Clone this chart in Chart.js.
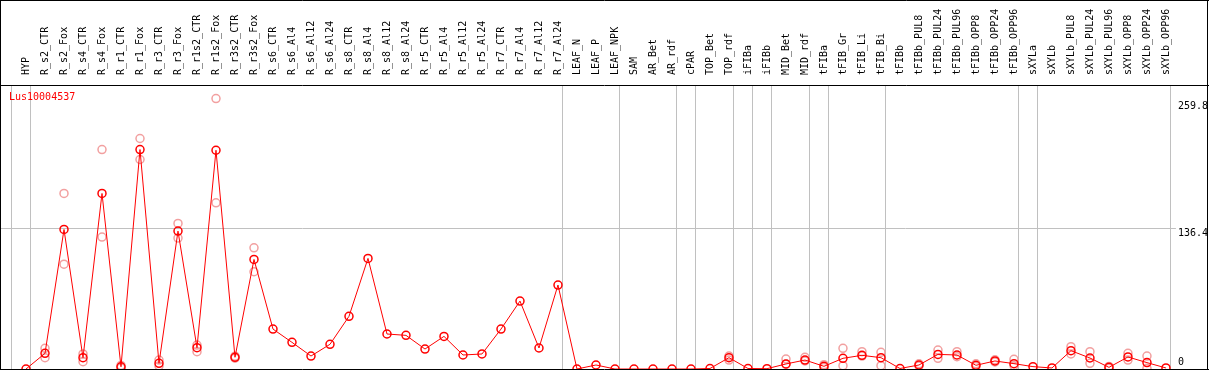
<!DOCTYPE html>
<html>
<head>
<meta charset="utf-8">
<script src="https://cdn.jsdelivr.net/npm/chart.js@4/dist/chart.umd.min.js"></script>
<style>
  html, body { margin: 0; padding: 0; background: #fff; }
  #wrap { width: 1209px; height: 370px; }
</style>
</head>
<body>
<div id="wrap"><canvas id="myChart" width="1209" height="370"></canvas></div>
<script>
// gene shown in the top-left corner
var geneName = 'Lus10004537';

// sample names, one per column
var categories = [
  'HYP', 'R_s2_CTR', 'R_s2_Fox', 'R_s4_CTR', 'R_s4_Fox', 'R_r1_CTR', 'R_r1_Fox',
  'R_r3_CTR', 'R_r3_Fox', 'R_r1s2_CTR', 'R_r1s2_Fox', 'R_r3s2_CTR', 'R_r3s2_Fox',
  'R_s6_CTR', 'R_s6_Al4', 'R_s6_Al12', 'R_s6_Al24', 'R_s8_CTR', 'R_s8_Al4', 'R_s8_Al12',
  'R_s8_Al24', 'R_r5_CTR', 'R_r5_Al4', 'R_r5_Al12', 'R_r5_Al24', 'R_r7_CTR', 'R_r7_Al4',
  'R_r7_Al12', 'R_r7_Al24', 'LEAF_N', 'LEAF_P', 'LEAF_NPK', 'SAM', 'AR_Bet', 'AR_rdf',
  'cPAR', 'TOP_Bet', 'TOP_rdf', 'iFIBa', 'iFIBb', 'MID_Bet', 'MID_rdf', 'tFIBa',
  'tFIB_Gr', 'tFIB_Li', 'tFIB_Bi', 'tFIBb', 'tFIBb_PUL8', 'tFIBb_PUL24', 'tFIBb_PUL96',
  'tFIBb_OPP8', 'tFIBb_OPP24', 'tFIBb_OPP96', 'sXYLa', 'sXYLb', 'sXYLb_PUL8',
  'sXYLb_PUL24', 'sXYLb_PUL96', 'sXYLb_OPP8', 'sXYLb_OPP24', 'sXYLb_OPP96'
];

// mean expression per sample
var meanValues = [
  0, 15.2, 135.6, 11.0, 170.6, 2.2, 213.3,
  5.5, 134, 20.7, 212.6, 11.4, 106.5,
  38.8, 25.9, 12.6, 24.0, 51.2, 107.5, 34.0,
  32.7, 19.4, 31.7, 13.6, 14.6, 38.8, 66.0,
  20.4, 81.6, 0, 3.9, 0, 0, 0, 0,
  0, 0.5, 11.0, 0.5, 0.3, 4.9, 8.7, 2.6,
  10.4, 13.3, 11.0, 0.5, 3.9, 14.2, 13.6,
  3.6, 7.8, 5.2, 2.3, 1.0, 17.8,
  10.7, 1.6, 11.7, 6.2, 1.0
];

// replicate measurements (null = no replicate shown)
var replicateA = [
  null, 20.1, 170.6, 14.6, 213.3, 3.5, 224,
  8.7, 141.5, 23.3, 262.8, 12.5, 117.8,
  null, null, null, null, null, null, null,
  null, null, null, null, null, null, null,
  null, null, null, null, null, null, null, null,
  null, null, 12.6, null, null, 9.7, 11.4, 4.2,
  20.1, 16.8, 16.2, null, 5.0, 18.4, 16.8,
  5.0, 9.0, 9.4, null, null, 21.7,
  16.8, 2.5, 15.2, 12.6, null
];
var replicateB = [
  null, 11.0, 101.9, 7.1, 128.2, 1.0, 203.6,
  2.9, 127.2, 16.8, 161.5, 10.5, 94.5,
  null, null, null, null, null, null, null,
  null, null, null, null, null, null, null,
  null, null, null, null, null, null, null, null,
  null, null, 8.7, null, null, 4.5, 7.8, 1.5,
  3.2, 12.6, 3.2, null, 3.0, 10.4, 11.9,
  2.5, 6.8, 3.2, null, null, 14.6,
  5.5, 0.8, 8.7, 0.7, null
];

// last sample index of each group (a grey line is drawn right after it)
var groupEnds = [-1, 0, 28, 31, 34, 35, 37, 38, 39, 41, 42, 45, 52, 53, 60];

// labelled values on the right axis
var yTicks = [0, 136.4, 259.8];
var yMax = 276;

function toPoints(values){
  var pts = [];
  for(var i = 0; i < values.length; i++){
    if(values[i] !== null) pts.push({x: i, y: values[i]});
  }
  return pts;
}

// no extra room for first/last tick labels
function noPadding(axis){
  axis.paddingTop = 0;
  axis.paddingBottom = 0;
  axis.paddingLeft = 0;
  axis.paddingRight = 0;
}

var monoFont = {family: "'DejaVu Sans Mono', monospace", size: 10};

// frame lines and gene label
var framePlugin = {
  id: 'frame',
  afterDraw: function(chart){
    var ctx = chart.ctx, a = chart.chartArea;
    ctx.save();
    ctx.strokeStyle = '#000';
    ctx.lineWidth = 1;
    ctx.beginPath();
    ctx.moveTo(0, 0.5); ctx.lineTo(1209, 0.5);
    ctx.moveTo(0, a.top + 0.5); ctx.lineTo(1209, a.top + 0.5);
    ctx.moveTo(0, a.bottom + 0.5); ctx.lineTo(1209, a.bottom + 0.5);
    ctx.moveTo(0.5, 0); ctx.lineTo(0.5, 370);
    ctx.moveTo(1207.5, 0); ctx.lineTo(1207.5, 370);
    ctx.stroke();
    ctx.fillStyle = '#ff0000';
    ctx.font = "10px 'DejaVu Sans Mono', monospace";
    ctx.textBaseline = 'middle';
    ctx.fillText(geneName, 9, a.top + 12);
    ctx.restore();
  }
};

var xMin = -1.316, xMax = 62.16;

var chart = new Chart(document.getElementById('myChart'), {
  type: 'line',
  data: {
    datasets: [{
      data: toPoints(meanValues),
      borderColor: '#ff0000',
      borderWidth: 1,
      pointRadius: 4,
      pointBorderWidth: 1.5,
      pointBackgroundColor: 'rgba(0,0,0,0)',
      pointBorderColor: '#ff0000',
      tension: 0,
      clip: false
    }, {
      data: toPoints(replicateA),
      showLine: false,
      pointRadius: 4,
      pointBorderWidth: 1.5,
      pointBackgroundColor: 'rgba(0,0,0,0)',
      pointBorderColor: '#f2a0a0',
      clip: false
    }, {
      data: toPoints(replicateB),
      showLine: false,
      pointRadius: 4,
      pointBorderWidth: 1.5,
      pointBackgroundColor: 'rgba(0,0,0,0)',
      pointBorderColor: '#f2a0a0',
      clip: false
    }]
  },
  options: {
    responsive: false,
    animation: false,
    events: [],
    layout: {autoPadding: false, padding: {left: 1, right: 2, top: 0, bottom: 1}},
    plugins: {legend: {display: false}, tooltip: {enabled: false}},
    scales: {
      x: {
        type: 'linear',
        position: 'top',
        min: xMin,
        max: xMax,
        afterBuildTicks: function(axis){
          axis.ticks = categories.map(function(c, i){ return {value: i}; });
        },
        afterFit: function(axis){ axis.height = 85; noPadding(axis); },
        grid: {display: false},
        border: {display: false},
        ticks: {
          autoSkip: false,
          minRotation: 90,
          maxRotation: 90,
          padding: 2,
          labelOffset: 12,
          color: '#000',
          font: monoFont,
          callback: function(value){ return categories[value]; }
        }
      },
      xg: {
        type: 'linear',
        position: 'bottom',
        min: xMin,
        max: xMax,
        afterBuildTicks: function(axis){
          axis.ticks = groupEnds.map(function(g){ return {value: g + 0.25}; });
        },
        afterFit: function(axis){ axis.height = 0; noPadding(axis); },
        grid: {color: '#c0c0c0', lineWidth: 1, drawTicks: false},
        border: {display: false},
        ticks: {display: false}
      },
      y: {
        type: 'linear',
        position: 'right',
        min: 0,
        max: yMax,
        afterBuildTicks: function(axis){
          axis.ticks = yTicks.filter(function(v){ return v > 0; }).map(function(v){ return {value: v}; });
        },
        afterFit: function(axis){ axis.width = 0; noPadding(axis); },
        grid: {
          drawTicks: false,
          color: function(ctx){ return ctx.tick && ctx.tick.value === 136.4 ? '#c0c0c0' : 'rgba(0,0,0,0)'; }
        },
        border: {display: false},
        ticks: {
          mirror: true,
          crossAlign: 'far',
          padding: 1,
          labelOffset: 5,
          color: '#000',
          font: monoFont,
          showLabelBackdrop: true,
          backdropColor: '#fff',
          backdropPadding: {left: 2, right: 0, top: 0, bottom: 0},
          callback: function(value){ return String(value); }
        }
      },
      y0: {
        type: 'linear',
        position: 'right',
        min: 0,
        max: yMax,
        afterBuildTicks: function(axis){
          axis.ticks = yTicks.filter(function(v){ return v === 0; }).map(function(v){ return {value: v}; });
        },
        afterFit: function(axis){ axis.width = 0; noPadding(axis); },
        grid: {display: false},
        border: {display: false},
        ticks: {
          mirror: true,
          crossAlign: 'far',
          padding: -23,
          labelOffset: -7,
          color: '#000',
          font: monoFont,
          callback: function(value){ return String(value); }
        }
      }
    }
  },
  plugins: [framePlugin]
});
</script>
</body>
</html>
